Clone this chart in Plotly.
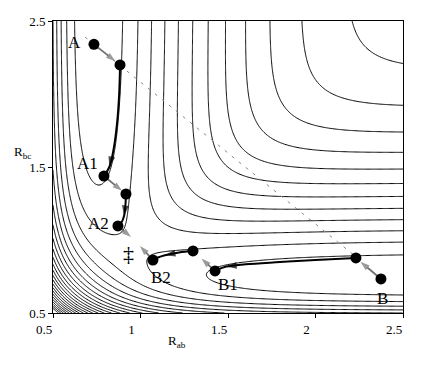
import numpy as np
import plotly.graph_objects as go

# ---- LEPS surface parameters (collinear A + BC) ----
D_E = 4.746      # eV
A_M = 1.942      # 1/Angstrom
R0 = 0.742       # Angstrom
SATO = 0.06
# contour crossings read on the top edge (R_bc = 2.5): first and 12th level
TOP_FIRST = 0.898
TOP_LAST = 2.209
N_BETWEEN = 11
LEVEL_END = 4.0

# grid
r_ab = np.linspace(0.5, 2.5, 321)
r_bc = np.linspace(0.5, 2.5, 321)

# ---- path points ----
pt_labels = ["A", "A1", "A2", "B", "B1", "B2"]
pt_x = [0.734, 0.791, 0.871, 2.374, 1.426, 1.071]
pt_y = [2.340, 1.438, 1.096, 0.733, 0.788, 0.863]
# intermediate points
mid_x = [0.883, 0.917, 2.231, 1.300]
mid_y = [2.199, 1.315, 0.877, 0.925]

# black curves (trajectories)
curve1_x = [0.883, 0.878, 0.866, 0.846, 0.822, 0.791]
curve1_y = [2.199, 2.000, 1.800, 1.620, 1.500, 1.438]
curve2_x = [0.917, 0.914, 0.906, 0.890, 0.871]
curve2_y = [1.315, 1.240, 1.165, 1.118, 1.096]
curve3_x = [1.300, 1.220, 1.140, 1.100, 1.071]
curve3_y = [0.925, 0.915, 0.895, 0.880, 0.863]
curve4_x = [2.231, 2.000, 1.797, 1.600, 1.490, 1.426]
curve4_y = [0.877, 0.863, 0.849, 0.834, 0.818, 0.788]

# dashed diagonal
diag_x = [0.683, 2.226]
diag_y = [2.390, 0.890]

ts_x, ts_y = 0.929, 0.905


def leps(x, y):
    z = x + y
    def qj(r):
        e1 = np.exp(-A_M * (r - R0))
        e2 = e1 * e1
        c = D_E / (4.0 * (1.0 + SATO))
        q = c * ((3 + SATO) * e2 - (2 + 6 * SATO) * e1)
        j = c * ((1 + 3 * SATO) * e2 - (6 + 2 * SATO) * e1)
        return q, j
    q1, j1 = qj(x)
    q2, j2 = qj(y)
    q3, j3 = qj(z)
    return q1 + q2 + q3 - np.sqrt(np.maximum(
        j1**2 + j2**2 + j3**2 - j1 * j2 - j2 * j3 - j1 * j3, 0))


X, Y = np.meshgrid(r_ab, r_bc)
Z = leps(X, Y)
lev0 = float(leps(np.array(TOP_FIRST), np.array(2.5)))
lev_last = float(leps(np.array(TOP_LAST), np.array(2.5)))
step = (lev_last - lev0) / N_BETWEEN

fig = go.Figure()
fig.add_trace(go.Contour(
    x=r_ab, y=r_bc, z=Z, autocontour=False,
    contours=dict(coloring="lines", start=lev0, end=LEVEL_END, size=step),
    colorscale=[[0, "black"], [1, "black"]],
    line=dict(width=1, color="black"),
    showscale=False, hoverinfo="skip"))

fig.add_trace(go.Scatter(x=diag_x, y=diag_y, mode="lines",
                         line=dict(color="#8a8a8a", width=1, dash="3px,6px"),
                         hoverinfo="skip"))


def arrow_trace(x0, y0, x1, y1, color, width, size):
    return go.Scatter(x=[x0, x1], y=[y0, y1], mode="lines+markers",
                      line=dict(color=color, width=width),
                      marker=dict(symbol="arrow", size=[0, size], color=color,
                                  angleref="previous",
                                  line=dict(width=0)),
                      hoverinfo="skip")


for cx, cy, i in [(curve1_x, curve1_y, 4), (curve2_x, curve2_y, 2),
                  (curve3_x, curve3_y, 2), (curve4_x, curve4_y, 4)]:
    fig.add_trace(go.Scatter(x=cx, y=cy, mode="lines",
                             line=dict(color="black", width=2, shape="spline"),
                             hoverinfo="skip"))
    fig.add_trace(arrow_trace(cx[i - 1], cy[i - 1], cx[i], cy[i],
                              "black", 0, 11))


def gray_arrow(x0, y0, x1, y1, frac=0.82):
    hx = x0 + (x1 - x0) * frac
    hy = y0 + (y1 - y0) * frac
    fig.add_trace(arrow_trace(x0, y0, hx, hy, "#707070", 1.8, 10))


gray_arrow(pt_x[0], pt_y[0], mid_x[0], mid_y[0])
gray_arrow(pt_x[1], pt_y[1], mid_x[1], mid_y[1])
gray_arrow(pt_x[2], pt_y[2], 0.946, 1.021, 1.0)
gray_arrow(pt_x[5], pt_y[5], 0.997, 0.959, 1.0)
gray_arrow(pt_x[4], pt_y[4], mid_x[3], mid_y[3], 0.62)
gray_arrow(pt_x[3], pt_y[3], mid_x[2], mid_y[2])

fig.add_trace(go.Scatter(x=pt_x + mid_x, y=pt_y + mid_y, mode="markers",
                         marker=dict(color="black", size=11),
                         hoverinfo="skip"))

annotations = []
lab_font = dict(family="Liberation Serif", size=17, color="black")
label_pos = {"A": (0.622, 2.355), "A1": (0.695, 1.525), "A2": (0.76, 1.11),
             "B": (2.382, 0.600), "B1": (1.500, 0.698), "B2": (1.115, 0.745)}
for name in pt_labels:
    lx, ly = label_pos[name]
    annotations.append(dict(x=lx, y=ly, xref="x", yref="y", text=name,
                            showarrow=False, font=lab_font))
annotations.append(dict(x=ts_x, y=ts_y, xref="x", yref="y", text="‡",
                        showarrow=False,
                        font=dict(family="Liberation Serif", size=22,
                                  color="black")))
annotations.append(dict(x=0.354, y=-0.135, xref="paper", yref="paper",
                        text="R<sub>ab</sub>", showarrow=False,
                        font=dict(family="Liberation Serif", size=13,
                                  color="black")))
annotations.append(dict(x=-0.117, y=0.55, xref="paper", yref="paper",
                        text="R<sub>bc</sub>", showarrow=False,
                        font=dict(family="Liberation Serif", size=13,
                                  color="black")))

axis_common = dict(showgrid=False, zeroline=False, showline=True,
                   linecolor="black", linewidth=1, mirror=True,
                   ticks="outside", ticklen=4, tickcolor="black",
                   automargin=False,
                   tickfont=dict(family="Liberation Serif", size=13,
                                 color="black"))

fig.update_layout(
    width=430, height=370,
    margin=dict(l=53, r=27, t=21, b=57),
    paper_bgcolor="white", plot_bgcolor="white",
    showlegend=False,
    xaxis=dict(range=[0.5, 2.5], tickvals=[0.5, 1, 1.5, 2, 2.5],
               ticktext=["0.5", "1", "1.5", "2", "2.5"], ticklabelshift=-9,
               **axis_common),
    yaxis=dict(range=[0.5, 2.5], tickvals=[0.5, 1.5, 2.5],
               ticktext=["0.5", "1.5", "2.5"], **axis_common),
    annotations=annotations,
)

fig.write_html("out.html", config={"displayModeBar": False},
               post_script="document.body.style.margin='0';"
                           "document.body.style.overflow='hidden';")
